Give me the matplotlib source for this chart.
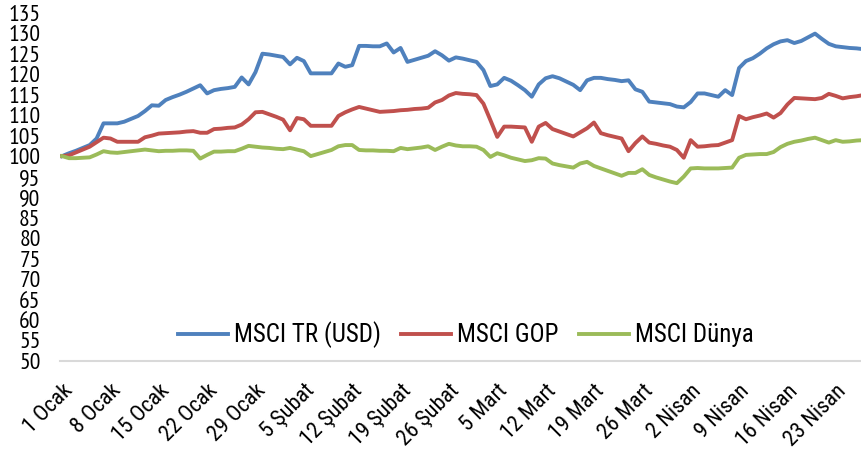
import matplotlib
matplotlib.use("Agg")
import matplotlib.pyplot as plt
import matplotlib.transforms as mtransforms
import numpy as np

# Days since 1 Ocak (calendar days)
tick_days = [0, 7, 14, 21, 28, 35, 42, 49, 56, 63, 70, 77, 84, 91, 98, 105, 112]
tick_labels = ['1 Ocak', '8 Ocak', '15 Ocak', '22 Ocak', '29 Ocak', '5 Şubat', '12 Şubat',
               '19 Şubat', '26 Şubat', '5 Mart', '12 Mart', '19 Mart', '26 Mart',
               '2 Nisan', '9 Nisan', '16 Nisan', '23 Nisan']

msci_tr = [100.0, 100.7, 101.3, 102.0, 102.7, 104.3, 108.0, 108.0, 108.0, 108.4,
           109.1, 109.8, 111.0, 112.4, 112.3, 113.7, 114.4, 115.0, 115.7, 116.5,
           117.3, 115.3, 116.1, 116.4, 116.6, 116.9, 119.2, 117.5, 120.5, 125.0,
           124.8, 124.5, 124.2, 122.4, 124.0, 123.2, 120.2, 120.2, 120.2, 120.2,
           122.6, 121.8, 122.2, 126.9, 126.9, 126.8, 126.8, 127.5, 125.3, 126.4,
           123.0, 123.5, 124.0, 124.5, 125.6, 124.6, 123.3, 124.1, 123.8, 123.4,
           123.0, 121.0, 117.1, 117.5, 119.1, 118.4, 117.3, 116.1, 114.5, 117.5,
           119.0, 119.5, 119.0, 118.2, 117.4, 116.1, 118.5, 119.1, 119.1, 118.8,
           118.6, 118.3, 118.5, 116.3, 115.7, 113.3, 113.1, 112.9, 112.7, 112.1,
           111.9, 113.2, 115.3, 115.3, 114.9, 114.5, 116.1, 114.9, 121.5, 123.2,
           123.9, 125.0, 126.3, 127.3, 128.0, 128.3, 127.6, 128.1, 129.0, 129.9,
           128.6, 127.4, 126.8, 126.6, 126.4, 126.3, 126.1]

msci_gop = [100.0, 100.2, 100.9, 101.6, 102.3, 103.4, 104.5, 104.3, 103.5, 103.5,
            103.5, 103.5, 104.6, 105.0, 105.5, 105.6, 105.7, 105.8, 106.0, 106.1,
            105.7, 105.7, 106.6, 106.7, 106.9, 107.0, 107.7, 109.0, 110.7, 110.8,
            110.2, 109.6, 108.9, 106.3, 109.3, 109.0, 107.4, 107.4, 107.4, 107.4,
            109.8, 110.7, 111.4, 112.0, 111.6, 111.2, 110.8, 110.9, 111.0, 111.2,
            111.3, 111.5, 111.6, 111.8, 113.1, 113.7, 114.8, 115.4, 115.2, 115.1,
            114.9, 112.8, 108.8, 104.7, 107.2, 107.2, 107.1, 107.0, 103.5, 107.2,
            108.1, 106.6, 106.0, 105.4, 104.8, 105.8, 106.8, 108.2, 105.6, 105.1,
            104.7, 104.3, 101.2, 103.2, 104.8, 103.3, 103.0, 102.6, 102.3, 101.5,
            99.6, 103.9, 102.3, 102.4, 102.6, 102.7, 103.3, 103.9, 109.8, 109.0,
            109.5, 109.9, 110.4, 109.4, 110.5, 112.6, 114.2, 114.1, 114.0, 113.9,
            114.2, 115.2, 114.7, 114.1, 114.4, 114.6, 114.9]

msci_dunya = [100.0, 99.5, 99.5, 99.6, 99.7, 100.4, 101.2, 100.9, 100.8, 101.0,
              101.2, 101.4, 101.6, 101.4, 101.2, 101.3, 101.3, 101.4, 101.4, 101.3,
              99.4, 100.3, 101.1, 101.1, 101.2, 101.2, 101.8, 102.5, 102.3, 102.1,
              102.0, 101.8, 101.7, 102.0, 101.6, 101.2, 100.0, 100.5, 101.0, 101.5,
              102.4, 102.7, 102.7, 101.5, 101.4, 101.4, 101.3, 101.3, 101.2, 102.0,
              101.7, 101.9, 102.1, 102.4, 101.5, 102.3, 103.0, 102.6, 102.4, 102.4,
              102.3, 101.5, 99.8, 100.7, 100.2, 99.6, 99.2, 98.8, 99.0, 99.5,
              99.4, 98.2, 97.8, 97.5, 97.2, 98.2, 98.6, 97.6, 97.0, 96.4,
              95.8, 95.2, 95.9, 95.9, 96.8, 95.4, 94.8, 94.3, 93.8, 93.4,
              95.0, 97.0, 97.1, 97.0, 97.0, 97.0, 97.1, 97.2, 99.6, 100.3,
              100.4, 100.5, 100.5, 101.0, 102.2, 103.0, 103.5, 103.8, 104.2, 104.5,
              103.9, 103.3, 103.9, 103.5, 103.6, 103.8, 103.9]

series_names = ['MSCI TR (USD)', 'MSCI GOP', 'MSCI Dünya']
colors = ['#4F81BD', '#C0504D', '#9BBB59']

narrow = ['PT Sans Narrow', 'Roboto Condensed', 'DejaVu Sans']
cond = ['Roboto Condensed', 'PT Sans Narrow', 'DejaVu Sans']

fig = plt.figure(figsize=(8.62, 4.51), dpi=100)
ax = fig.add_axes([0.0696, 0.1996, 0.9304, 0.7722])

days = np.arange(len(msci_tr))
for vals, name, c in zip([msci_tr, msci_gop, msci_dunya], series_names, colors):
    ax.plot(days, vals, color=c, lw=2.8, label=name, solid_joinstyle='round')

ax.set_ylim(50, 135)
ax.set_yticks(np.arange(50, 136, 5))
ax.set_xlim(-0.3, 115.8)
ax.set_xticks(tick_days)
ax.set_xticklabels(tick_labels, rotation=45, ha='right', va='top',
                   rotation_mode='anchor', family=cond, fontsize=16)
shift = mtransforms.ScaledTranslation(5 / 100, 0, fig.dpi_scale_trans)
for lab in ax.get_xticklabels():
    lab.set_transform(lab.get_transform() + shift)
for lab in ax.get_yticklabels():
    lab.set_family(narrow)
    lab.set_fontsize(17)

for s in ['top', 'right', 'left']:
    ax.spines[s].set_visible(False)
ax.spines['bottom'].set_color('#D9D9D9')
ax.spines['bottom'].set_linewidth(1.5)
ax.tick_params(axis='both', length=0)
ax.tick_params(axis='y', pad=14)
ax.tick_params(axis='x', pad=14)

leg = ax.legend(loc='center', bbox_to_anchor=(0.506, 0.075), ncol=3, frameon=False,
                prop={'family': cond, 'size': 18}, handlelength=2.0,
                handletextpad=0.25, columnspacing=0.8)

fig.savefig('out.png', dpi=100)
